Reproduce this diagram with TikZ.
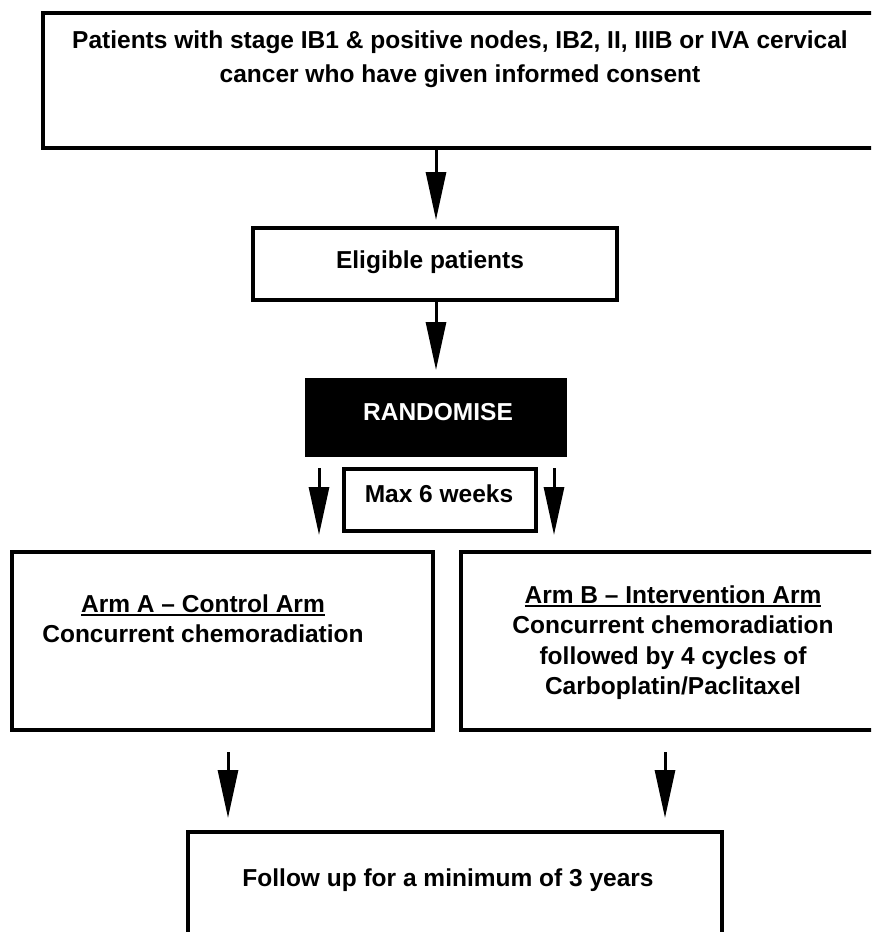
\documentclass[tikz,border=0pt]{standalone}
\usepackage{fontspec}
\setmainfont{Liberation Sans}
\usetikzlibrary{arrows.meta}
\newsavebox\ulsave
\newcommand{\thickul}[1]{\sbox\ulsave{#1}\rlap{\rule[-4pt]{\wd\ulsave}{1.8pt}}\usebox\ulsave}
\begin{document}
\begin{tikzpicture}[x=1pt,y=-1pt,
  box/.style={draw=black, line width=3.2pt, fill=white, inner sep=0pt, outer sep=0pt},
  txt/.style={font=\fontsize{24.5}{30}\selectfont\bfseries, align=center, inner sep=0pt, anchor=base},
  arr/.style={line width=3pt, -{Triangle[length=48pt,width=20pt]}}]
\useasboundingbox (0,0) rectangle (871,932);
\fill[white] (0,0) rectangle (871,932);
\clip (0,0) rectangle (871,932);
% boxes
\node[box, minimum width=857pt, minimum height=135pt] (top) at (471.5,80.5) {};
\node[box, minimum width=364pt, minimum height=72pt] (elig) at (435,264) {};
\node[box, fill=black, minimum width=258pt, minimum height=75pt] (rand) at (436,417.5) {};
\node[box, minimum width=192pt, minimum height=62pt] (maxw) at (440,500) {};
\node[box, minimum width=421pt, minimum height=178pt] (armA) at (222.5,641) {};
\node[box, minimum width=439pt, minimum height=178pt] (armB) at (680.5,641) {};
\node[box, minimum width=534pt, minimum height=128pt] (foll) at (455,896) {};
% texts (multi-line nodes: base = baseline of last line)
\node[txt, font=\fontsize{24.5}{33.5}\selectfont\bfseries] (tTop) at (460,82)
  {Patients with stage IB1 \& positive nodes, IB2, II, IIIB or IVA cervical\\cancer who have given informed consent};
\node[txt] (tElig) at (430,268) {Eligible patients};
\node[txt, text=white] (tRand) at (438,420) {RANDOMISE};
\node[txt] (tMax) at (439,502) {Max 6 weeks};
\node[txt] (tArmA) at (203,642) {\thickul{Arm A – Control Arm}\\Concurrent chemoradiation};
\node[txt, font=\fontsize{24.5}{30.5}\selectfont\bfseries] (tArmB) at (673,694.5)
  {\thickul{Arm B – Intervention Arm}\\Concurrent chemoradiation\\followed by 4 cycles of\\Carboplatin/Paclitaxel};
\node[txt] (tFoll) at (448,886) {Follow up for a minimum of 3 years};
% arrow x positions
\coordinate (xa) at (436,0);
\coordinate (xl) at (319,0);
\coordinate (xr) at (554,0);
\coordinate (xbl) at (228,0);
\coordinate (xbr) at (665,0);
% connectors
\draw[arr, shorten >=8pt] (top.south -| xa) -- (elig.north -| xa);
\draw[arr, shorten >=10pt] (elig.south -| xa) -- (rand.north -| xa);
\draw[arr, shorten <=13pt, shorten >=17pt] (rand.south -| xl) -- (armA.north -| xl);
\draw[arr, shorten <=13pt, shorten >=17pt] (rand.south -| xr) -- (armB.north -| xr);
\draw[arr, shorten <=22pt, shorten >=14pt] (armA.south -| xbl) -- (foll.north -| xbl);
\draw[arr, shorten <=22pt, shorten >=14pt] (armB.south -| xbr) -- (foll.north -| xbr);
\end{tikzpicture}
\end{document}
